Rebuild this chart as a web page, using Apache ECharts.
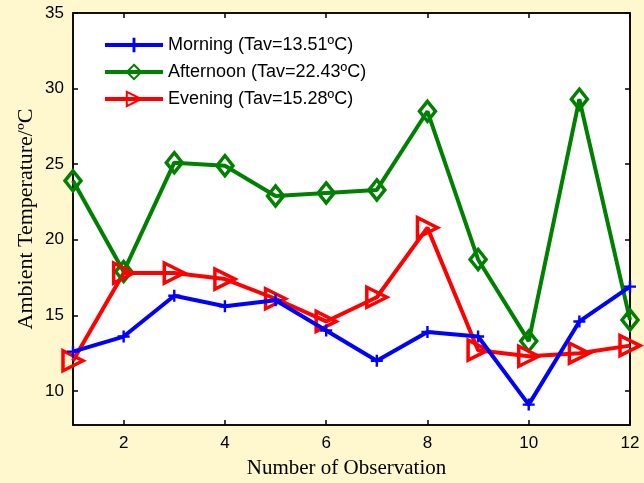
<!DOCTYPE html>
<html><head><meta charset="utf-8">
<script src="https://cdn.jsdelivr.net/npm/echarts@6/dist/echarts.min.js"></script>
<style>html,body{margin:0;padding:0;background:#FFF7CE;}#c{width:644px;height:483px;}</style>
</head><body><div id="c"></div>
<script>
const observations = [1,2,3,4,5,6,7,8,9,10,11,12];
const morning   = [12.6,13.6,16.3,15.6,16.0,14.0,12.0,13.9,13.6,9.1,14.6,16.9];
const afternoon = [23.9,17.9,25.1,24.9,22.9,23.1,23.3,28.5,18.7,13.3,29.3,14.7];
const evening   = [12.0,17.8,17.8,17.4,16.1,14.6,16.2,20.8,12.7,12.3,12.5,13.0];
const seriesNames = ['Morning (Tav=13.51ºC)','Afternoon (Tav=22.43ºC)','Evening (Tav=15.28ºC)'];
const xTicks = [2,4,6,8,10,12];
const yTicks = [10,15,20,25,30,35];

const plus = 'path://M4,0 L6,0 L6,4 L10,4 L10,6 L6,6 L6,10 L4,10 L4,6 L0,6 L0,4 L4,4 Z';
const toPairs = a => observations.map((x,i)=>[x,a[i]]);
const font = 'Liberation Sans, Arial, sans-serif';
const serif = 'Liberation Serif, Times New Roman, serif';
const axisBase = {
  type:'value',
  axisLine:{show:true,onZero:false,lineStyle:{color:'#000',width:1.5}},
  splitLine:{show:false},
};
const chart = echarts.init(document.getElementById('c'));
chart.setOption({
  backgroundColor:'#FFF7CE',
  animation:false,
  grid:{left:73,right:14,top:13,bottom:58,show:true,outerBoundsMode:'none',containLabel:false,
        backgroundColor:'#fff',borderColor:'#000',borderWidth:1.5},
  legend:{
    orient:'vertical',left:98,top:31,itemWidth:58,itemHeight:18,itemGap:9,
    textStyle:{fontFamily:font,fontSize:18,color:'#000'},
    lineStyle:{width:4},
    data:seriesNames
  },
  xAxis:[
    Object.assign({},axisBase,{min:1,max:12,position:'bottom',
      name:'Number of Observation',nameLocation:'middle',nameGap:33,nameMoveOverlap:false,
      nameTextStyle:{fontFamily:serif,fontSize:21,color:'#000',padding:[0,10,0,0]},
      axisTick:{inside:true,length:5,customValues:xTicks,lineStyle:{color:'#000',width:1.5}},
      axisLabel:{customValues:xTicks,fontFamily:font,fontSize:17,color:'#000',margin:10}}),
    Object.assign({},axisBase,{min:1,max:12,position:'top',
      axisTick:{inside:true,length:5,customValues:xTicks,lineStyle:{color:'#000',width:1.5}},
      axisLabel:{show:false}})
  ],
  yAxis:[
    Object.assign({},axisBase,{min:7.75,max:35,position:'left',
      name:'Ambient Temperature/ºC',nameLocation:'middle',nameGap:36,nameMoveOverlap:false,
      nameTextStyle:{fontFamily:serif,fontSize:22,color:'#000'},
      axisTick:{inside:true,length:5,customValues:yTicks,lineStyle:{color:'#000',width:1.5}},
      axisLabel:{customValues:yTicks,fontFamily:font,fontSize:17,color:'#000',margin:9}}),
    Object.assign({},axisBase,{min:7.75,max:35,position:'right',
      axisTick:{inside:true,length:5,customValues:yTicks,lineStyle:{color:'#000',width:1.5}},
      axisLabel:{show:false}})
  ],
  series:[
    {name:seriesNames[0],type:'line',data:toPairs(morning),symbol:plus,symbolSize:12,
     lineStyle:{color:'#0000FF',width:4},itemStyle:{color:'#0000FF'},z:3},
    {name:seriesNames[1],type:'line',data:toPairs(afternoon),symbol:'diamond',symbolSize:[16,20],
     lineStyle:{color:'#008000',width:4},itemStyle:{color:'rgba(255,255,255,0)',borderColor:'#008000',borderWidth:3.5},z:2},
    {name:seriesNames[2],type:'line',data:toPairs(evening),symbol:'triangle',symbolRotate:-90,symbolSize:[20,20],
     lineStyle:{color:'#FF0000',width:4},itemStyle:{color:'rgba(255,255,255,0)',borderColor:'#FF0000',borderWidth:3.5},z:2}
  ]
});
</script></body></html>
